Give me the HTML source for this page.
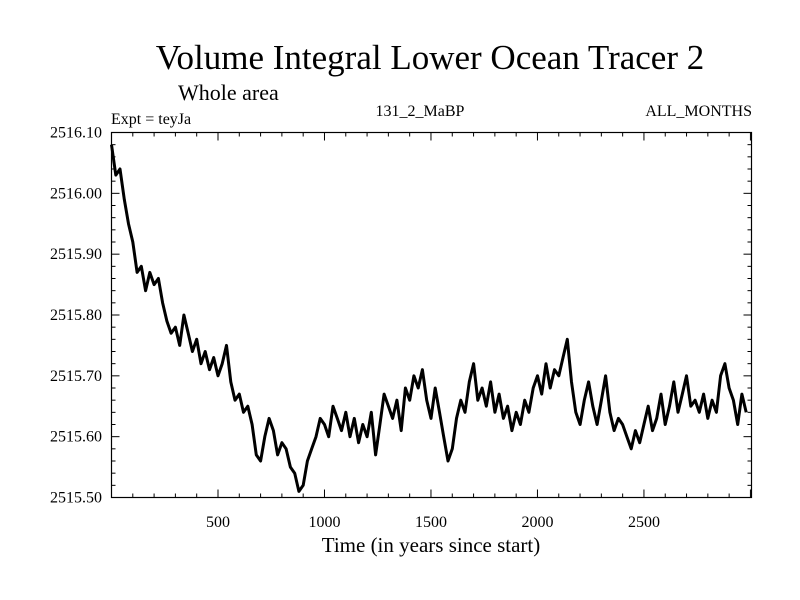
<!DOCTYPE html>
<html><head><meta charset="utf-8"><style>
html,body{margin:0;padding:0;background:#fff;}
svg{display:block;font-family:"Liberation Serif",serif;}
</style></head><body>
<svg id="chart" width="800" height="600">
<text x="430" y="69" font-size="35" text-anchor="middle">Volume Integral Lower Ocean Tracer 2</text>
<text x="178" y="100" font-size="22">Whole area</text>
<text x="111" y="124" font-size="16">Expt = teyJa</text>
<text x="420" y="116" font-size="16" text-anchor="middle">131_2_MaBP</text>
<text x="752" y="116" font-size="16" text-anchor="end">ALL_MONTHS</text>
<text x="431" y="552" font-size="21" text-anchor="middle">Time (in years since start)</text>
<g id="ticks"></g>
<path id="series" fill="none" stroke="#000" stroke-width="3" stroke-linejoin="round"/>
<rect x="111.5" y="132.5" width="640" height="365" fill="none" stroke="#000" stroke-width="1.2"/>
</svg>
<script>
const startYear = 0;
const stepYears = 20;
const values = [
2516.08,2516.03,2516.04,2515.99,2515.95,2515.92,2515.87,2515.88,2515.84,2515.87,
2515.85,2515.86,2515.82,2515.79,2515.77,2515.78,2515.75,2515.80,2515.77,2515.74,
2515.76,2515.72,2515.74,2515.71,2515.73,2515.70,2515.72,2515.75,2515.69,2515.66,
2515.67,2515.64,2515.65,2515.62,2515.57,2515.56,2515.60,2515.63,2515.61,2515.57,
2515.59,2515.58,2515.55,2515.54,2515.51,2515.52,2515.56,2515.58,2515.60,2515.63,
2515.62,2515.60,2515.65,2515.63,2515.61,2515.64,2515.60,2515.63,2515.59,2515.62,
2515.60,2515.64,2515.57,2515.62,2515.67,2515.65,2515.63,2515.66,2515.61,2515.68,
2515.66,2515.70,2515.68,2515.71,2515.66,2515.63,2515.68,2515.64,2515.60,2515.56,
2515.58,2515.63,2515.66,2515.64,2515.69,2515.72,2515.66,2515.68,2515.65,2515.69,
2515.64,2515.67,2515.63,2515.65,2515.61,2515.64,2515.62,2515.66,2515.64,2515.68,
2515.70,2515.67,2515.72,2515.68,2515.71,2515.70,2515.73,2515.76,2515.69,2515.64,
2515.62,2515.66,2515.69,2515.65,2515.62,2515.66,2515.70,2515.64,2515.61,2515.63,
2515.62,2515.60,2515.58,2515.61,2515.59,2515.62,2515.65,2515.61,2515.63,2515.67,
2515.62,2515.65,2515.69,2515.64,2515.67,2515.70,2515.65,2515.66,2515.64,2515.67,
2515.63,2515.66,2515.64,2515.70,2515.72,2515.68,2515.66,2515.62,2515.67,2515.64
];
const xTickLabels = [500,1000,1500,2000,2500];
const yTickLabels = ["2515.50","2515.60","2515.70","2515.80","2515.90","2516.00","2516.10"];
const xMin=0,xMax=3005,yMin=2515.5,yMax=2516.1;
const L=111.5,R=751.5,T=132.5,B=497.5;
function xs(v){return L+(v-xMin)/(xMax-xMin)*(R-L);}
function ys(v){return B-(v-yMin)/(yMax-yMin)*(B-T);}
const NS="http://www.w3.org/2000/svg";
const g=document.getElementById('ticks');
function line(x1,y1,x2,y2){const l=document.createElementNS(NS,'line');l.setAttribute('x1',x1);l.setAttribute('y1',y1);l.setAttribute('x2',x2);l.setAttribute('y2',y2);l.setAttribute('stroke','#000');l.setAttribute('stroke-width','1');


g.appendChild(l);}
function text(x,y,s,anchor){const t=document.createElementNS(NS,'text');t.setAttribute('x',x);t.setAttribute('y',y);t.setAttribute('font-size','16');t.setAttribute('text-anchor',anchor);t.textContent=s;


document.getElementById('chart').appendChild(t);}
for(let v=100;v<xMax;v+=100){const x=xs(v);const major=v%500===0;const len=major?8:4;line(x,B,x,B-len);line(x,T,x,T+len);}
xTickLabels.forEach(v=>text(xs(v),527,String(v),'middle'));
for(let i=0;i<=30;i++){const v=yMin+i*0.02;const y=ys(v);const major=i%5===0;const len=major?8:4;line(L,y,L+len,y);line(R,y,R-len,y);}
yTickLabels.forEach(s=>text(102,ys(parseFloat(s))+5,s,'end'));
let d='';values.forEach((v,i)=>{d+=(i?'L':'M')+xs(startYear+i*stepYears).toFixed(1)+','+ys(v).toFixed(1);});
document.getElementById('series').setAttribute('d',d);
</script>
</body></html>
